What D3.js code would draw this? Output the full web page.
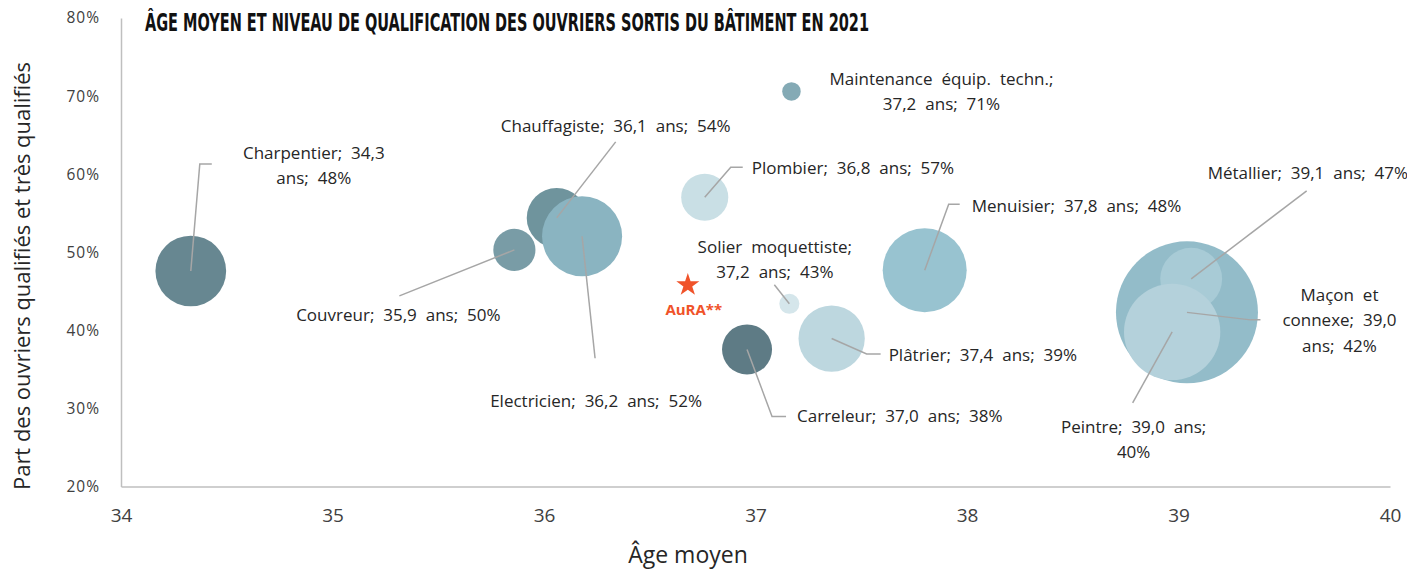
<!DOCTYPE html>
<html lang="fr">
<head>
<meta charset="utf-8">
<title>Âge moyen et niveau de qualification des ouvriers sortis du bâtiment en 2021</title>
<script src="https://cdn.jsdelivr.net/npm/d3@7"></script>
<style>
  body { margin: 0; background: #fff; }
  svg { display: block; }
  .lbl { font-family: "Open Sans", sans-serif; font-size: 17px; fill: #262626; word-spacing: 4.5px; }
</style>
</head>
<body>
<svg id="chart" width="1407" height="571"></svg>
<script>
// ---- Données : métiers du bâtiment (ordre de tracé) ----
const metiers = [
  "Charpentier", "Couvreur", "Chauffagiste", "Electricien", "Plombier",
  "Solier moquettiste", "Maintenance équip. techn.", "Carreleur", "Plâtrier",
  "Menuisier", "Maçon et connexe", "Métallier", "Peintre"
];
// Âge moyen des ouvriers sortis (ans)
const agesMoyens = [34.33, 35.86, 36.06, 36.18, 36.76, 37.16, 37.17, 36.96, 37.36, 37.80, 39.04, 39.06, 38.97];
// Part des ouvriers qualifiés et très qualifiés (%)
const partsQualifies = [47.6, 50.3, 54.4, 52.05, 57.05, 43.4, 70.6, 37.55, 38.95, 47.7, 42.3, 46.6, 39.8];
// Nombre d'ouvriers sortis (taille des bulles)
const effectifs = [1240, 440, 890, 1590, 550, 100, 85, 620, 1090, 1750, 5000, 950, 2300];
// Couleur de chaque bulle
const couleurs = [
  "#678791", "#799ca6", "#6f949d", "#8ab4c1", "#c9dfe5",
  "#d5e6eb", "#84aab5", "#5e7b85", "#bdd7df",
  "#98c3d0", "#93bcc9", "#a8cbd6", "#b4d1db"
];

// Repère régional
const regionNom = "AuRA**";
const regionAge = 36.68;
const regionPart = 45.8;

// Graduations
const xTicks = [34, 35, 36, 37, 38, 39, 40];
const yTicks = [20, 30, 40, 50, 60, 70, 80];

// Placement des étiquettes (décalages en pixels depuis le centre de la bulle),
// découpage en lignes (nombre de mots par ligne) et coudes des lignes de rappel
const placement = [
  { dx: 123, dy: -112, anchor: "middle", lines: [2, 2], leader: [[9, -107], [21, -107]] },
  { dx: -116, dy: 71, anchor: "middle", lines: [4], leader: [[-115, 46]] },
  { dx: 59, dy: -86, anchor: "middle", lines: [4], leader: [[59, -76]] },
  { dx: 14, dy: 171, anchor: "middle", lines: [4], leader: [[13, 122]] },
  { dx: 47, dy: -23, anchor: "start", lines: [4], leader: [[26, -30], [38, -30]] },
  { dx: -14.5, dy: -51, anchor: "middle", lines: [2, 3], leader: [[-15, -19]] },
  { dx: 150, dy: -6.5, anchor: "middle", lines: [3, 3], leader: null },
  { dx: 50, dy: 73, anchor: "start", lines: [4], leader: [[25, 67], [39, 67]] },
  { dx: 57, dy: 22.5, anchor: "start", lines: [4], leader: [[35, 15.5], [49, 15.5]] },
  { dx: 47, dy: -58, anchor: "start", lines: [4], leader: [[24, -66], [35, -66]] },
  { dx: 152.5, dy: -11.5, anchor: "middle", lines: [2, 2, 2], leader: [[63.5, 7.5], [73.5, 7.5]] },
  { dx: 16.5, dy: -100, anchor: "start", lines: [4], leader: [[115.5, -88]] },
  { dx: -38.5, dy: 101, anchor: "middle", lines: [3, 1], leader: [[-39.5, 71]] }
];

const svg = d3.select("#chart");

const x = d3.scaleLinear().domain([34, 40]).range([121, 1390]);
const y = d3.scaleLinear().domain([20, 80]).range([486.5, 18]);
const r = d3.scaleSqrt().domain([0, d3.max(effectifs)]).range([0, 71]);

const fmtAge = v => d3.format(".1f")(v).replace(".", ",");
const fmtPct = v => Math.round(v) + "%";

const rows = metiers.map((m, i) => ({
  nom: m, age: agesMoyens[i], part: partsQualifies[i],
  effectif: effectifs[i], couleur: couleurs[i], pos: placement[i]
}));

// ---- Titre ----
svg.append("text")
  .attr("x", 145).attr("y", 31)
  .attr("textLength", 724).attr("lengthAdjust", "spacingAndGlyphs")
  .style("font-family", "'Liberation Sans Narrow', 'DejaVu Sans Condensed', sans-serif")
  .style("font-weight", "bold").style("font-size", "24px").style("fill", "#111")
  .text("ÂGE MOYEN ET NIVEAU DE QUALIFICATION DES OUVRIERS SORTIS DU BÂTIMENT EN 2021");

// ---- Axes ----
const axisColor = "#bfbfbf";
const gx = svg.append("g").attr("transform", `translate(0,${y(20)})`)
  .call(d3.axisBottom(x).tickValues(xTicks).tickSize(0).tickPadding(22).tickFormat(d3.format("d")));
const gy = svg.append("g").attr("transform", `translate(${x(34)},0)`)
  .call(d3.axisLeft(y).tickValues(yTicks).tickSize(0).tickPadding(21).tickFormat(d => d + "%"));

[gx, gy].forEach(g => {
  g.select(".domain").attr("stroke", axisColor).attr("stroke-width", 1.5);
  g.selectAll("text").style("font-family", "'Open Sans', sans-serif").style("fill", "#404040");
});
gx.selectAll("text").style("font-size", "19px");
gy.selectAll("text").style("font-size", "15.5px").style("letter-spacing", "1px");

// Titres des axes
svg.append("text")
  .attr("x", 688).attr("y", 563).attr("text-anchor", "middle")
  .style("font-family", "'Open Sans', sans-serif").style("font-size", "23px").style("fill", "#262626")
  .text("Âge moyen");

svg.append("text")
  .attr("transform", "translate(30,276) rotate(-90)").attr("text-anchor", "middle")
  .attr("textLength", 428).attr("lengthAdjust", "spacingAndGlyphs")
  .style("font-family", "'Open Sans', sans-serif").style("font-size", "21px").style("fill", "#262626")
  .text("Part des ouvriers qualifiés et très qualifiés");

// ---- Bulles ----
svg.append("g").selectAll("circle").data(rows).join("circle")
  .attr("cx", d => x(d.age)).attr("cy", d => y(d.part)).attr("r", d => r(d.effectif))
  .attr("fill", d => d.couleur);

// ---- Lignes de rappel ----
svg.append("g").selectAll("path").data(rows.filter(d => d.pos.leader)).join("path")
  .attr("d", d => {
    const cx = x(d.age), cy = y(d.part);
    return d3.line()([[cx, cy], ...d.pos.leader.map(([dx, dy]) => [cx + dx, cy + dy])]);
  })
  .attr("fill", "none").attr("stroke", "#a6a6a6").attr("stroke-width", 1.5);

// ---- Étiquettes ----
const lineHeight = 25.5;
const labels = svg.append("g").selectAll("text").data(rows).join("text")
  .attr("class", "lbl")
  .attr("text-anchor", d => d.pos.anchor)
  .attr("x", d => x(d.age) + d.pos.dx)
  .attr("y", d => y(d.part) + d.pos.dy);

labels.each(function (d) {
  const words = `${d.nom}; ${fmtAge(d.age)} ans; ${fmtPct(d.part)}`.split(" ");
  const t = d3.select(this);
  let k = 0;
  d.pos.lines.forEach((n, li) => {
    t.append("tspan")
      .attr("x", x(d.age) + d.pos.dx)
      .attr("dy", li === 0 ? 0 : lineHeight)
      .text(words.slice(k, k + n).join(" "));
    k += n;
  });
});

// ---- Repère régional ----
svg.append("path")
  .attr("transform", `translate(${x(regionAge)},${y(regionPart)})`)
  .attr("d", d3.symbol().type(d3.symbolStar).size(165)())
  .attr("fill", "#f0532a");

svg.append("text")
  .attr("x", x(regionAge) + 6).attr("y", y(regionPart) + 30).attr("text-anchor", "middle")
  .style("font-family", "'Open Sans', sans-serif").style("font-weight", "bold")
  .style("font-size", "15px").style("fill", "#f0532a")
  .text(regionNom);
</script>
</body>
</html>
